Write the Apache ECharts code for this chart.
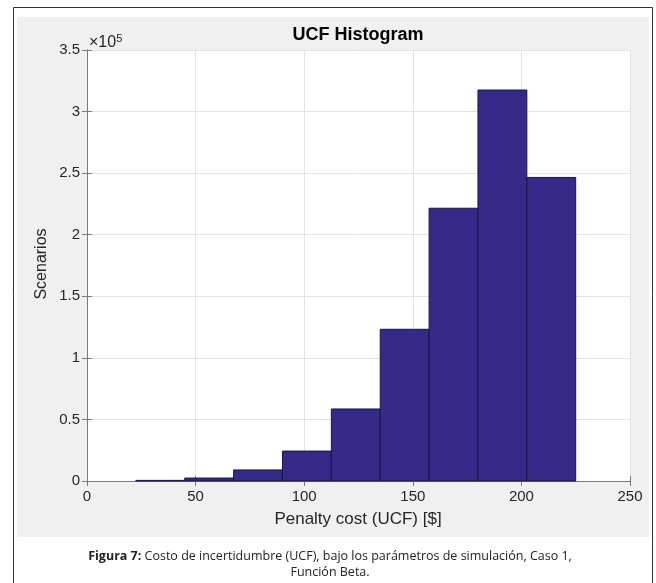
<!DOCTYPE html>
<html>
<head>
<meta charset="utf-8">
<script src="https://cdn.jsdelivr.net/npm/echarts@6/dist/echarts.min.js"></script>
<style>
  html, body { margin: 0; padding: 0; background: #fff; }
  #chart { width: 656px; height: 583px; }
</style>
</head>
<body>
<div id="chart"></div>
<script>
// histogram bins (UCF penalty cost, $)
const binStart = [22.5, 45, 67.5, 90, 112.5, 135, 157.5, 180, 202.5]
const binEnd = [45, 67.5, 90, 112.5, 135, 157.5, 180, 202.5, 225]
const scenarios = [500, 2400, 9000, 24300, 58500, 123200, 221500, 317500, 246500]
const xTicks = [0, 50, 100, 150, 200, 250]
const yTicks = [0, 0.5, 1, 1.5, 2, 2.5, 3, 3.5] // x 10^5

const textColor = '#262626'
const axisColor = '#7a7a7a'
const barColor = '#352a87'

const chart = echarts.init(document.getElementById('chart'))

const axisBase = {
  type: 'value',
  axisLine: { show: true, lineStyle: { color: axisColor, width: 1 } },
  axisTick: { show: true, inside: true, length: 5, lineStyle: { color: axisColor } },
  splitLine: { show: false },
  axisLabel: { show: false }
}

chart.setOption({
  animation: false,
  backgroundColor: '#fff',
  graphic: [
    { type: 'rect', z: -10, shape: { x: 13.5, y: 7.5, width: 639, height: 600 },
      style: { fill: '#fff', stroke: '#333', lineWidth: 1 } },
    { type: 'rect', z: -9, shape: { x: 17, y: 17, width: 632, height: 520 },
      style: { fill: '#f0f0f0' } },
    { type: 'rect', z: -8, shape: { x: 87, y: 50, width: 543, height: 431 },
      style: { fill: '#fff' } },
    { type: 'text', x: 358, y: 26, z: 10,
      style: { text: 'UCF Histogram', fill: '#000', font: 'bold 18px "Liberation Sans", Arial', align: 'center' } },
    { type: 'text', x: 89, y: 33, z: 10,
      style: { text: '{a|\u00d710}{b|5}', rich: {
        a: { fill: textColor, fontSize: 16, fontFamily: 'Liberation Sans' },
        b: { fill: textColor, fontSize: 11, fontFamily: 'Liberation Sans', verticalAlign: 'top', padding: [0, 0, 8, 0] }
      } } },
    { type: 'text', x: 358, y: 511, z: 10,
      style: { text: 'Penalty cost (UCF) [$]', fill: textColor, font: '17px "Liberation Sans", Arial', align: 'center' } },
    { type: 'text', x: 42, y: 264, rotation: Math.PI / 2, z: 10,
      style: { text: 'Scenarios', fill: textColor, font: '16px "Liberation Sans", Arial', align: 'center', verticalAlign: 'middle' } },
    { type: 'text', x: 330, y: 548, z: 10,
      style: { text: '{b|Figura 7:} Costo de incertidumbre (UCF), bajo los parámetros de simulación, Caso 1,\nFunción Beta.',
        align: 'center', lineHeight: 16, fill: '#222', fontSize: 12.5, fontFamily: 'Open Sans',
        rich: { b: { fontWeight: 'bold', fontSize: 12.5, fontFamily: 'Open Sans', fill: '#222' } } } }
  ],
  grid: { left: 87, right: 26, top: 50, bottom: 102, containLabel: false },
  xAxis: [
    Object.assign({}, axisBase, {
      position: 'bottom', min: xTicks[0], max: xTicks[xTicks.length - 1], interval: 50,
      splitLine: { show: true, lineStyle: { color: '#e3e3e3', width: 1 } },
      axisLabel: { show: true, color: textColor, fontSize: 15, fontFamily: 'Liberation Sans', margin: 8 }
    }),
    Object.assign({}, axisBase, {
      position: 'top', min: xTicks[0], max: xTicks[xTicks.length - 1], interval: 50
    })
  ],
  yAxis: [
    Object.assign({}, axisBase, {
      position: 'left', min: 0, max: yTicks[yTicks.length - 1] * 1e5, interval: 0.5e5,
      splitLine: { show: true, lineStyle: { color: '#e3e3e3', width: 1 } },
      axisLabel: { show: true, color: textColor, fontSize: 15, fontFamily: 'Liberation Sans', margin: 7,
        formatter: v => String(+(v / 1e5).toFixed(1)) }
    }),
    Object.assign({}, axisBase, {
      position: 'right', min: 0, max: yTicks[yTicks.length - 1] * 1e5, interval: 0.5e5
    })
  ],
  series: [{
    type: 'custom',
    xAxisIndex: 0,
    yAxisIndex: 0,
    encode: { x: [0, 1], y: 2 },
    data: binStart.map((s, i) => [s, binEnd[i], scenarios[i]]),
    renderItem: (params, api) => {
      const p0 = api.coord([api.value(0), api.value(2)])
      const p1 = api.coord([api.value(1), 0])
      return {
        type: 'rect',
        shape: { x: p0[0], y: p0[1], width: p1[0] - p0[0], height: p1[1] - p0[1] },
        style: { fill: barColor, stroke: '#1b1640', lineWidth: 1 }
      }
    }
  }]
})
</script>
</body>
</html>
